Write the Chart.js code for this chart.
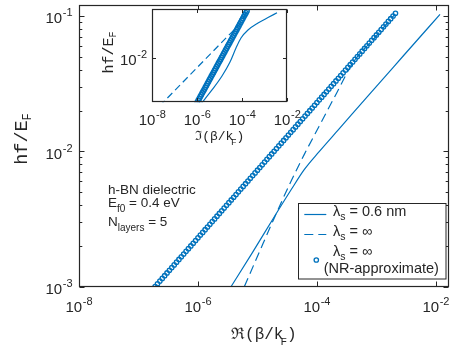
<!DOCTYPE html>
<html><head><meta charset="utf-8">
<script src="https://cdn.jsdelivr.net/npm/chart.js@4"></script>
<style>
html,body{margin:0;padding:0;background:#fff;}
#wrap{position:relative;width:454px;height:349px;overflow:hidden;}
canvas{position:absolute;left:0;top:0;}
</style></head><body>
<div id="wrap"><canvas id="main" width="454" height="349"></canvas><canvas id="inset" width="454" height="349"></canvas></div>
<script>
// ---------- data ----------
// main panel: hf/E_F versus Re(beta/k_F)
const solidRe   = [3.61e-6, 8.22e-6, 1.92e-5, 3.70e-5, 6.11e-5, 1.09e-4, 2.36e-4, 7.48e-4, 2.89e-3, 1.172e-2];
const solidFreq = [0.001, 0.00178, 0.00328, 0.00521, 0.00731, 0.00993, 0.01463, 0.02614, 0.05125, 0.1029];
const dashRe    = [6.03e-6, 1.076e-5, 1.919e-5, 3.42e-5, 6.10e-5, 1.088e-4, 2.18e-4, 4.04e-4, 9.08e-4, 2.04e-3];
const dashFreq  = [0.001, 0.001798, 0.003216, 0.00562, 0.00944, 0.01532, 0.02732, 0.0453, 0.0679, 0.1029];
const nrFreq = [
 0.001, 0.001047, 0.001096, 0.001148, 0.001202, 0.001259, 0.001318, 0.00138, 0.001445, 0.001514,
 0.001585, 0.00166, 0.001738, 0.00182, 0.001905, 0.001995, 0.002089, 0.002188, 0.002291, 0.002399,
 0.002512, 0.00263, 0.002754, 0.002884, 0.00302, 0.003162, 0.003311, 0.003467, 0.003631, 0.003802,
 0.003981, 0.004169, 0.004365, 0.004571, 0.004786, 0.005012, 0.005248, 0.005495, 0.005754, 0.006026,
 0.00631, 0.006607, 0.006918, 0.007244, 0.007586, 0.007943, 0.008318, 0.00871, 0.00912, 0.00955,
 0.01, 0.01047, 0.01096, 0.01148, 0.01202, 0.01259, 0.01318, 0.0138, 0.01445, 0.01514,
 0.01585, 0.0166, 0.01738, 0.0182, 0.01905, 0.01995, 0.02089, 0.02188, 0.02291, 0.02399,
 0.02512, 0.0263, 0.02754, 0.02884, 0.0302, 0.03162, 0.03311, 0.03467, 0.03631, 0.03802,
 0.03981, 0.04169, 0.04365, 0.04571, 0.04786, 0.05012, 0.05248, 0.05495, 0.05754, 0.06026,
 0.0631, 0.06607, 0.06918, 0.07244, 0.07586, 0.07943, 0.08318, 0.0871, 0.0912, 0.0955,
 0.1, 0.1047];
const nrRe = [
 1.905e-7, 2.089e-7, 2.291e-7, 2.512e-7, 2.754e-7, 3.02e-7, 3.311e-7, 3.631e-7, 3.981e-7, 4.365e-7,
 4.786e-7, 5.248e-7, 5.754e-7, 6.31e-7, 6.918e-7, 7.586e-7, 8.318e-7, 9.12e-7, 1e-6, 1.096e-6,
 1.202e-6, 1.318e-6, 1.445e-6, 1.585e-6, 1.738e-6,
 1.905e-6, 2.089e-6, 2.291e-6, 2.512e-6, 2.754e-6, 3.02e-6, 3.311e-6, 3.631e-6, 3.981e-6, 4.365e-6,
 4.786e-6, 5.248e-6, 5.754e-6, 6.31e-6, 6.918e-6, 7.586e-6, 8.318e-6, 9.12e-6, 1e-5, 1.096e-5,
 1.202e-5, 1.318e-5, 1.445e-5, 1.585e-5, 1.738e-5,
 1.905e-5, 2.089e-5, 2.291e-5, 2.512e-5, 2.754e-5, 3.02e-5, 3.311e-5, 3.631e-5, 3.981e-5, 4.365e-5,
 4.786e-5, 5.248e-5, 5.754e-5, 6.31e-5, 6.918e-5, 7.586e-5, 8.318e-5, 9.12e-5, 1e-4, 1.096e-4,
 1.202e-4, 1.318e-4, 1.445e-4, 1.585e-4, 1.738e-4,
 1.905e-4, 2.089e-4, 2.291e-4, 2.512e-4, 2.754e-4, 3.02e-4, 3.311e-4, 3.631e-4, 3.981e-4, 4.365e-4,
 4.786e-4, 5.248e-4, 5.754e-4, 6.31e-4, 6.918e-4, 7.586e-4, 8.318e-4, 9.12e-4, 1e-3, 1.096e-3,
 1.202e-3, 1.318e-3, 1.445e-3, 1.585e-3, 1.738e-3,
 1.905e-3, 2.089e-3];

// inset panel: hf/E_F versus Im(beta/k_F)
const insetSolidIm   = [1.5e-6, 4.50e-6, 1.253e-5, 2.84e-5, 5.25e-5, 8.75e-5, 1.79e-4, 4.99e-4, 1.387e-3, 3.48e-3];
const insetSolidFreq = [0.0032, 0.00448, 0.00633, 0.00895, 0.01266, 0.01622, 0.01977, 0.0235, 0.0269, 0.0303];
const insetDashIm    = [2.14e-8, 2.4e-5, 7.76e-5, 1.78e-4];
const insetDashFreq  = [0.00302, 0.0172, 0.0229, 0.0331];
const insetNrFreq = [
 0.003311, 0.003467, 0.003631, 0.003802, 0.003981, 0.004169, 0.004365, 0.004571, 0.004786, 0.005012,
 0.005248, 0.005495, 0.005754, 0.006026, 0.00631, 0.006607, 0.006918, 0.007244, 0.007586, 0.007943,
 0.008318, 0.00871, 0.00912, 0.00955, 0.01, 0.01047, 0.01096, 0.01148, 0.01202, 0.01259,
 0.01318, 0.0138, 0.01445, 0.01514, 0.01585, 0.0166, 0.01738, 0.0182, 0.01905, 0.01995,
 0.02089, 0.02188, 0.02291, 0.02399, 0.02512, 0.0263, 0.02754, 0.02884, 0.0302, 0.03162];
const insetNrIm = [
 1e-6, 1.109e-6, 1.23e-6, 1.365e-6, 1.514e-6, 1.679e-6, 1.862e-6, 2.065e-6, 2.291e-6, 2.541e-6,
 2.818e-6, 3.126e-6, 3.467e-6, 3.846e-6, 4.266e-6, 4.732e-6, 5.248e-6, 5.821e-6, 6.457e-6, 7.161e-6,
 7.943e-6, 8.81e-6, 9.772e-6, 1.084e-5, 1.202e-5, 1.334e-5, 1.479e-5, 1.641e-5, 1.82e-5, 2.018e-5,
 2.239e-5, 2.483e-5, 2.754e-5, 3.055e-5, 3.388e-5, 3.758e-5, 4.169e-5, 4.624e-5, 5.129e-5, 5.689e-5,
 6.31e-5, 6.998e-5, 7.762e-5, 8.61e-5, 9.55e-5, 1.059e-4, 1.175e-4, 1.303e-4, 1.445e-4, 1.603e-4];

// ticks
const mainXTicks  = [1e-8, 1e-6, 1e-4, 1e-2];
const mainYTicks  = [1e-3, 1e-2, 1e-1];
const mainYMinor  = [0.002,0.003,0.004,0.005,0.006,0.007,0.008,0.009,0.02,0.03,0.04,0.05,0.06,0.07,0.08,0.09];
const insetXTicks = [1e-8, 1e-6, 1e-4, 1e-2];
const insetYTicks = [1e-2];

// ---------- styling ----------
const BLUE = '#0072BD';
const AX = '#262626';
const SANS = '"Liberation Sans", Arial, Helvetica, sans-serif';
const MONO = '"Liberation Mono", "DejaVu Sans Mono", monospace';

const pts = (xs, ys) => xs.map((x, i) => ({x: x, y: ys[i]}));

function rich(ctx, parts, x, y, align) {
  let w = 0;
  parts.forEach(p => { ctx.font = p.s + 'px ' + (p.f || SANS); p.w = ctx.measureText(p.t).width; w += p.w + (p.dx || 0); });
  let cx = align === 'center' ? x - w / 2 : x;
  parts.forEach(p => {
    cx += (p.dx || 0);
    ctx.font = p.s + 'px ' + (p.f || SANS);
    ctx.fillText(p.t, cx, y + (p.dy || 0));
    cx += p.w;
  });
}

function powLabel(ctx, v, x, y, mode) {
  const e = String(Math.round(Math.log10(v)));
  ctx.font = '15px ' + SANS; const wb = ctx.measureText('10').width;
  ctx.font = '11px ' + SANS; const we = ctx.measureText(e).width;
  const gap = 0.6, w = wb + gap + we;
  let x0, by;
  if (mode === 'center') { x0 = x - w / 2; by = y; } else { x0 = x - w; by = y + 7.4; }
  ctx.fillStyle = AX; ctx.textAlign = 'left'; ctx.textBaseline = 'alphabetic';
  ctx.font = '15px ' + SANS; ctx.fillText('10', x0, by);
  ctx.font = '11px ' + SANS; ctx.fillText(e, x0 + wb + gap, by - 7);
}

function drawFrame(ctx, chart, xt, yt, ymin, tl, tlm) {
  const ca = chart.chartArea, xs = chart.scales.x, ys = chart.scales.y;
  const L = Math.round(ca.left) + 0.5, R = Math.round(ca.right) - 0.5;
  const T = Math.round(ca.top) + 0.5, B = Math.round(ca.bottom) - 0.5;
  ctx.save();
  ctx.strokeStyle = AX; ctx.lineWidth = 1; ctx.setLineDash([]);
  ctx.beginPath();
  xt.forEach(v => { const p = Math.round(xs.getPixelForValue(v)) + 0.5;
    ctx.moveTo(p, B); ctx.lineTo(p, B - tl); ctx.moveTo(p, T); ctx.lineTo(p, T + tl); });
  yt.forEach(v => { const p = Math.round(ys.getPixelForValue(v)) + 0.5;
    ctx.moveTo(L, p); ctx.lineTo(L + tl, p); ctx.moveTo(R, p); ctx.lineTo(R - tl, p); });
  ymin.forEach(v => { const p = Math.round(ys.getPixelForValue(v)) + 0.5;
    ctx.moveTo(L, p); ctx.lineTo(L + tlm, p); ctx.moveTo(R, p); ctx.lineTo(R - tlm, p); });
  ctx.stroke();
  ctx.lineWidth = 1.2;
  ctx.strokeRect(L, T, R - L, B - T);
  ctx.restore();
}

// ---------- main chart ----------
const mainPlugin = {
  id: 'mainDeco',
  beforeDraw(chart) {
    const c = chart.ctx; c.save(); c.fillStyle = '#fff'; c.fillRect(0, 0, chart.width, chart.height); c.restore();
  },
  afterDraw(chart) {
    const ctx = chart.ctx, xs = chart.scales.x, ys = chart.scales.y, ca = chart.chartArea;
    drawFrame(ctx, chart, mainXTicks, mainYTicks, mainYMinor, 5, 2.8);
    ctx.save();
    ctx.fillStyle = AX; ctx.textBaseline = 'alphabetic';
    mainXTicks.forEach(v => powLabel(ctx, v, xs.getPixelForValue(v), 312, 'center'));
    mainYTicks.forEach(v => powLabel(ctx, v, 72.5, ys.getPixelForValue(v), 'right'));
    // x title
    rich(ctx, [{t: 'ℜ(β/k', s: 16, f: MONO}, {t: 'F', s: 11, f: MONO, dy: 6, dx: -3}, {t: ')', s: 16, f: MONO}],
      (ca.left + ca.right) / 2, 339, 'center');
    // y title
    ctx.save(); ctx.translate(27, 139); ctx.rotate(-Math.PI / 2);
    rich(ctx, [{t: 'hf/E', s: 18.5, f: MONO}, {t: 'F', s: 12, f: MONO, dy: 4}], 0, 0, 'center');
    ctx.restore();
    // annotation
    rich(ctx, [{t: 'h-BN dielectric', s: 13.5}], 108, 194, 'left');
    rich(ctx, [{t: 'E', s: 13.5}, {t: 'f0', s: 10, dy: 5}, {t: ' = 0.4 eV', s: 13.5}], 108, 206.7, 'left');
    rich(ctx, [{t: 'N', s: 13.5}, {t: 'layers', s: 10, dy: 5}, {t: ' = 5', s: 13.5}], 108, 225.7, 'left');
    // legend
    const lx = 298.5, ly = 203.5, lw = 147.5, lh = 75.5;
    ctx.fillStyle = '#fff'; ctx.fillRect(lx, ly, lw, lh);
    ctx.strokeStyle = AX; ctx.lineWidth = 1; ctx.strokeRect(lx, ly, lw, lh);
    ctx.strokeStyle = BLUE; ctx.lineWidth = 1.2;
    ctx.beginPath(); ctx.moveTo(304.3, 214.5); ctx.lineTo(326.3, 214.5); ctx.stroke();
    ctx.setLineDash([9, 5]);
    ctx.beginPath(); ctx.moveTo(304.3, 234.5); ctx.lineTo(326.3, 234.5); ctx.stroke();
    ctx.setLineDash([]);
    ctx.lineWidth = 1.3;
    ctx.beginPath(); ctx.arc(316.3, 260, 2.2, 0, Math.PI * 2); ctx.stroke();
    ctx.fillStyle = AX;
    rich(ctx, [{t: 'λ', s: 14.5}, {t: 's', s: 10.5, dy: 4}, {t: ' = 0.6 nm', s: 14.5}], 333, 216, 'left');
    rich(ctx, [{t: 'λ', s: 14.5}, {t: 's', s: 10.5, dy: 4}, {t: ' = ∞', s: 14.5}], 333, 236, 'left');
    rich(ctx, [{t: 'λ', s: 14.5}, {t: 's', s: 10.5, dy: 4}, {t: ' = ∞', s: 14.5}], 333, 255.5, 'left');
    rich(ctx, [{t: '(NR-approximate)', s: 14.5}], 323.7, 272.5, 'left');
    ctx.restore();
  }
};

new Chart(document.getElementById('main'), {
  type: 'scatter',
  data: { datasets: [
    { label: 'λs = ∞ (NR-approximate)', data: pts(nrRe, nrFreq), showLine: false, order: 0,
      pointRadius: 2.2, pointBorderWidth: 1.3, pointBorderColor: BLUE, pointBackgroundColor: 'rgba(0,0,0,0)' },
    { label: 'λs = 0.6 nm', data: pts(solidRe, solidFreq), showLine: true, order: 1,
      borderColor: BLUE, borderWidth: 1.2, pointRadius: 0, fill: false, cubicInterpolationMode: 'monotone' },
    { label: 'λs = ∞', data: pts(dashRe, dashFreq), showLine: true, order: 2,
      borderColor: BLUE, borderWidth: 1.2, borderDash: [9, 5], pointRadius: 0, fill: false, cubicInterpolationMode: 'monotone' }
  ]},
  options: {
    responsive: false, animation: false, devicePixelRatio: 1, events: [],
    layout: { padding: { left: 79, top: 5, right: 4, bottom: 62.5 } },
    plugins: { legend: { display: false }, tooltip: { enabled: false } },
    scales: {
      x: { type: 'logarithmic', min: 1e-8, max: 0.0164, display: false },
      y: { type: 'logarithmic', min: 1e-3, max: 0.12, display: false }
    }
  },
  plugins: [mainPlugin]
});

// ---------- inset chart ----------
const insetPlugin = {
  id: 'insetDeco',
  beforeDatasetsDraw(chart) {
    const c = chart.ctx, ca = chart.chartArea;
    c.save(); c.fillStyle = '#fff'; c.fillRect(ca.left, ca.top, ca.right - ca.left, ca.bottom - ca.top); c.restore();
  },
  afterDraw(chart) {
    const ctx = chart.ctx, xs = chart.scales.x, ys = chart.scales.y, ca = chart.chartArea;
    drawFrame(ctx, chart, insetXTicks, insetYTicks, [], 3.5, 0);
    ctx.save();
    insetXTicks.forEach(v => powLabel(ctx, v, xs.getPixelForValue(v), 124.5, 'center'));
    insetYTicks.forEach(v => powLabel(ctx, v, 147, ys.getPixelForValue(v), 'right'));
    ctx.fillStyle = AX;
    rich(ctx, [{t: 'ℑ(β/k', s: 13, f: MONO}, {t: 'F', s: 9.5, f: MONO, dy: 5, dx: -2.5}, {t: ')', s: 13, f: MONO}],
      (ca.left + ca.right) / 2, 140, 'center');
    ctx.save(); ctx.translate(112.5, 52.5); ctx.rotate(-Math.PI / 2);
    rich(ctx, [{t: 'hf/E', s: 15, f: MONO}, {t: 'F', s: 10, f: MONO, dy: 3.5}], 0, 0, 'center');
    ctx.restore();
    ctx.restore();
  }
};

new Chart(document.getElementById('inset'), {
  type: 'scatter',
  data: { datasets: [
    { label: 'NR inset', data: pts(insetNrIm, insetNrFreq), showLine: false, order: 0,
      pointRadius: 2.3, pointBorderWidth: 1.4, pointBorderColor: BLUE, pointBackgroundColor: 'rgba(0,0,0,0)' },
    { label: 'solid inset', data: pts(insetSolidIm, insetSolidFreq), showLine: true, order: 1,
      borderColor: BLUE, borderWidth: 1.2, pointRadius: 0, fill: false, cubicInterpolationMode: 'monotone' },
    { label: 'dash inset', data: pts(insetDashIm, insetDashFreq), showLine: true, order: 2,
      borderColor: BLUE, borderWidth: 1.2, borderDash: [7, 4], pointRadius: 0, fill: false, tension: 0 }
  ]},
  options: {
    responsive: false, animation: false, devicePixelRatio: 1, events: [],
    layout: { padding: { left: 152.3, top: 9.3, right: 166.7, bottom: 246.7 } },
    plugins: { legend: { display: false }, tooltip: { enabled: false } },
    scales: {
      x: { type: 'logarithmic', min: 1e-8, max: 1e-2, display: false },
      y: { type: 'logarithmic', min: 3.3e-3, max: 3.3e-2, display: false }
    }
  },
  plugins: [insetPlugin]
});
</script>
</body></html>
